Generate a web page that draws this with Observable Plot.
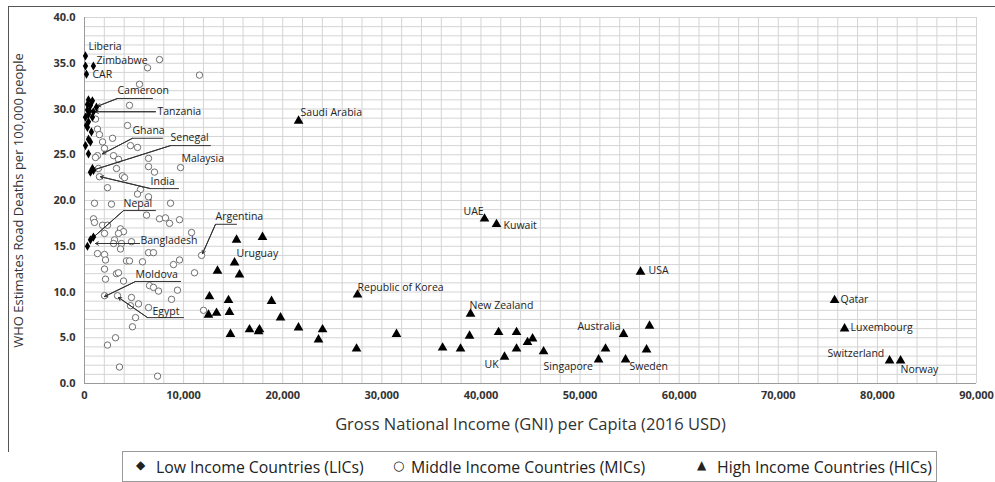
<!DOCTYPE html>
<html>
<head>
<meta charset="utf-8">
<script src="https://cdn.jsdelivr.net/npm/d3@7"></script>
<script src="https://cdn.jsdelivr.net/npm/@observablehq/plot@0.6"></script>
<style>
  body { margin: 0; background: #fff; font-family: 'Open Sans', sans-serif; }
  #wrap { position: relative; width: 995px; height: 482px; overflow: hidden; }
  #frame { position: absolute; left: 8px; top: 6px; width: 1000px; height: 445px; border-left: 1px solid #555; border-top: 1px solid #555; pointer-events: none; }
  #chart { position: absolute; left: 0; top: 0; }
  #legend { position: absolute; left: 122px; top: 451px; width: 815px; height: 31px; border: 1px solid #999; box-sizing: border-box; font-family: 'Liberation Sans Narrow', 'Open Sans', sans-serif; font-size: 15.8px; color: #222; }
  #legend span { position: absolute; top: 4px; white-space: nowrap; }
</style>
</head>
<body>
<div id="wrap">
  <div id="chart"></div>
  <div id="frame"></div>
  <div id="legend"></div>
</div>
<script>
// ---- Data (GNI per capita 2016 USD, WHO road deaths per 100,000) ----
const licPoints = [
  [100,35.8],[100,34.7],[900,34.7],[200,33.8],[400,31.0],[800,30.9],[300,30.5],[600,30.4],
  [1200,30.2],[300,29.9],[500,29.8],[900,29.7],[400,29.4],[100,29.1],[800,29.1],[400,28.6],
  [200,28.2],[300,28.0],[700,27.5],[400,26.7],[600,26.4],[100,26.0],[400,25.1],[800,23.5],
  [900,23.3],[600,23.1],[900,16.0],[600,15.7],[300,15.0]
];
const micPoints = [
  [7570,35.4],[6360,34.5],[11600,33.7],[5550,32.7],[4540,30.4],[1110,28.9],[4340,28.2],[1310,27.8],
  [1510,27.2],[2830,26.8],[1820,26.4],[2020,25.7],[4640,26.0],[5350,25.8],[2930,24.9],[1310,24.9],
  [1110,24.7],[6460,24.6],[3430,24.5],[9690,23.6],[6460,23.7],[3230,23.5],[1410,23.5],[7060,23.1],
  [3830,22.7],[4040,22.5],[1510,22.6],[2320,21.4],[5650,21.2],[5350,20.7],[6460,20.4],[1010,19.7],
  [2720,19.6],[8680,19.7],[910,18.0],[1010,17.6],[1820,17.3],[2320,17.3],[6260,18.4],[7570,18.0],
  [8170,18.1],[8580,17.5],[9590,17.9],[10800,16.5],[3630,16.9],[3940,16.6],[2020,16.4],[3430,16.4],
  [3030,15.7],[2930,15.3],[3730,15.3],[4740,15.5],[3630,14.7],[1310,14.2],[2020,14.1],[2120,13.5],
  [4240,13.4],[4540,13.4],[5850,13.3],[6460,14.3],[6960,14.3],[8980,13.0],[9590,13.5],[11810,14.0],
  [11100,12.1],[2020,12.5],[3230,12.0],[3430,12.1],[2120,11.4],[3940,11.2],[6560,10.7],[6960,10.5],
  [7470,10.1],[9380,10.2],[2020,9.6],[3330,9.6],[4740,9.4],[8780,9.2],[4640,8.5],[5450,8.7],
  [6460,8.3],[5150,7.2],[4840,6.2],[12010,8.0],[3130,5.0],[2320,4.2],[3530,1.8],[7370,0.8]
];
const hicPoints = [
  [15340,15.7],[17960,16.0],[15140,13.2],[13420,12.3],[15640,11.9],[12610,9.5],[14530,9.1],[18870,9.0],
  [27550,9.7],[12510,7.5],[13320,7.7],[14630,7.8],[19780,7.2],[16650,5.9],[17560,5.7],[17660,5.9],
  [21590,6.1],[24020,5.9],[14730,5.4],[23610,4.8],[31480,5.4],[27450,3.8],[21600,28.7],[40360,18.0],
  [41570,17.4],[56100,12.2],[38950,7.6],[38850,5.2],[36130,3.9],[37940,3.8],[41780,5.6],[43590,5.6],
  [43590,3.8],[44700,4.5],[45210,4.9],[46320,3.5],[42380,2.9],[52570,3.8],[51870,2.6],[54390,5.4],
  [54590,2.6],[57010,6.3],[56710,3.7],[75680,9.1],[76690,6.0],[81230,2.5],[82340,2.5]
];

// Country labels placed in data units
const countryLabels = [
  ["Liberia", 400, 36.8], ["Zimbabwe", 1210, 35.3], ["CAR", 800, 33.8],
  ["Cameroon", 3330, 32.0], ["Tanzania", 7360, 29.7], ["Ghana", 4840, 27.6],
  ["Senegal", 8680, 26.9], ["Malaysia", 9790, 24.6], ["India", 6660, 22.1],
  ["Nepal", 3940, 19.7], ["Bangladesh", 5650, 15.6], ["Argentina", 13220, 18.2],
  ["Uruguay", 15340, 14.2], ["Moldova", 5150, 11.9], ["Egypt", 6860, 7.9],
  ["Saudi Arabia", 21800, 29.6], ["Republic of Korea", 27550, 10.5], ["UAE", 38240, 18.8],
  ["Kuwait", 42280, 17.3], ["USA", 56910, 12.35], ["New Zealand", 38850, 8.5],
  ["Australia", 49740, 6.2], ["UK", 40360, 2.1], ["Singapore", 46320, 1.85],
  ["Sweden", 54990, 1.85], ["Qatar", 76280, 9.2], ["Luxembourg", 77290, 6.1],
  ["Switzerland", 74970, 3.3], ["Norway", 82340, 1.5]
];

// Leader lines: underline end, underline start, target point
const leaders = [
  ["Cameroon",   [[6860,31.15],[3330,31.15],[1310,30.3]]],
  ["Tanzania",   [[7160,29.7],[1100,29.7]]],
  ["Ghana",      [[7870,26.8],[4840,26.8],[1820,25.1]]],
  ["Senegal",    [[12710,26.0],[8680,26.0],[800,23.3]]],
  ["India",      [[9490,21.3],[6660,21.3],[1610,22.6]]],
  ["Nepal",      [[7160,18.9],[3940,18.9],[810,15.9]]],
  ["Bangladesh", [[5550,15.3],[1110,15.3]]],
  ["Argentina",  [[15340,17.4],[13220,17.4],[11910,14.2]]],
  ["Moldova",    [[9690,11.15],[5150,11.15],[2020,9.5]]],
  ["Egypt",      [[9990,7.2],[6360,7.2],[3430,9.4]]]
];

const xTickValues = [0,10000,20000,30000,40000,50000,60000,70000,80000,90000];
const yTickValues = [0,5,10,15,20,25,30,35,40];
const xGridStep = 2000, yGridStep = 1;
const xTitle = "Gross National Income (GNI) per Capita (2016 USD)";
const yTitle = "WHO Estimates Road Deaths per 100,000 people";
const legendItems = [
  ["\u25C6", "Low Income Countries (LICs)"],
  ["\u25CB", "Middle Income Countries (MICs)"],
  ["\u25B2", "High Income Countries (HICs)"]
];

// ---- Build ----
const lineRows = leaders.flatMap(([name, pts]) => pts.map(p => ({name, x: p[0], y: p[1]})));
const arrowRows = leaders.map(([name, pts]) => {
  const a = pts[pts.length - 2], b = pts[pts.length - 1];
  return {name, x1: a[0], y1: a[1], x2: b[0], y2: b[1]};
});
const fmtX = d => d === 0 ? "0" : d3.format(",")(d);
const titleFont = "'Liberation Sans Narrow', 'Open Sans', sans-serif";

const chart = Plot.plot({
  width: 995,
  height: 445,
  marginLeft: 84,
  marginRight: 19,
  marginTop: 17,
  marginBottom: 62,
  style: {fontFamily: "'Open Sans', sans-serif", background: "transparent", color: "#222"},
  x: {domain: [0, 90000]},
  y: {domain: [0, 40]},
  marks: [
    Plot.gridX(d3.range(0, 90001, xGridStep), {stroke: "#d4d4d4", strokeOpacity: 1}),
    Plot.gridY(d3.range(0, 40.01, yGridStep), {stroke: "#d4d4d4", strokeOpacity: 1}),
    Plot.ruleX([0], {stroke: "#9a9a9a"}),
    Plot.ruleY([0], {stroke: "#9a9a9a"}),
    Plot.axisX(xTickValues, {tickSize: 0, tickPadding: 8, tickFormat: fmtX, fontWeight: "bold", fontSize: 11, label: null, fill: "#333"}),
    Plot.axisY(yTickValues, {tickSize: 0, tickPadding: 9, tickFormat: d3.format(".1f"), fontWeight: "bold", fontSize: 11, label: null, fill: "#333"}),
    Plot.text([xTitle], {frameAnchor: "bottom", textAnchor: "middle", dy: 46, fontSize: 16.5, fill: "#333", fontFamily: titleFont}),
    Plot.text([yTitle], {frameAnchor: "left", textAnchor: "middle", dx: -66, rotate: -90, fontSize: 13, fill: "#333", fontFamily: titleFont}),
    Plot.dot(micPoints, {x: d => d[0], y: d => d[1], r: 3.2, stroke: "#6e6e6e", fill: "white", strokeWidth: 1}),
    Plot.line(lineRows, {x: "x", y: "y", z: "name", stroke: "#333", strokeWidth: 1}),
    Plot.arrow(arrowRows, {x1: "x1", y1: "y1", x2: "x2", y2: "y2", stroke: "#333", strokeWidth: 1, headLength: 5}),
    Plot.dot(licPoints, {x: d => d[0], y: d => d[1], symbol: "diamond", r: 2.8, fill: "black", stroke: "none"}),
    Plot.dot(hicPoints, {x: d => d[0], y: d => d[1], symbol: "triangle", r: 3.6, fill: "black", stroke: "none"}),
    Plot.text(countryLabels, {x: d => d[1], y: d => d[2], text: d => d[0], textAnchor: "start", lineAnchor: "middle", fontSize: 10.5, fill: "#222"})
  ]
});
document.getElementById("chart").appendChild(chart);

const legend = document.getElementById("legend");
const legendLefts = [[13, 33], [270, 288], [574, 594]];
legendItems.forEach(([sym, label], i) => {
  const s = document.createElement("span");
  s.textContent = sym;
  s.style.left = legendLefts[i][0] + "px";
  s.style.fontSize = i === 1 ? "13px" : "12px";
  s.style.fontFamily = "'DejaVu Sans', sans-serif";
  s.style.top = "6px";
  legend.appendChild(s);
  const t = document.createElement("span");
  t.textContent = label;
  t.style.left = legendLefts[i][1] + "px";
  legend.appendChild(t);
});
</script>
</body>
</html>
